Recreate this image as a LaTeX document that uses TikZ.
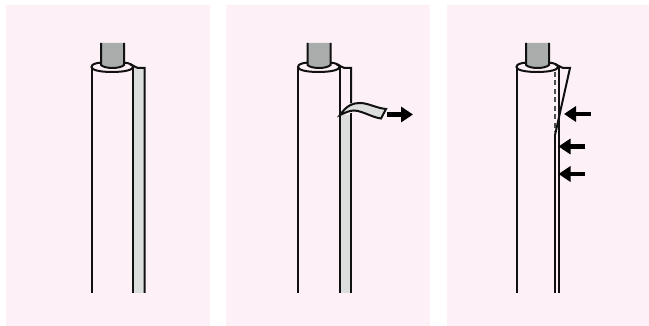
\documentclass[tikz,border=0pt]{standalone}
\definecolor{mPink}{HTML}{FDF1F7}
\definecolor{mCore}{HTML}{ABADAC}
\definecolor{mTape}{HTML}{DCDEDD}
\definecolor{mInk}{HTML}{111111}
\usetikzlibrary{arrows.meta}

\begin{document}
\begin{tikzpicture}[x=1pt, y=-1pt,
  panel/.style={fill=mPink, draw=none},
  ink/.style={draw=mInk, line width=2pt},
  tape/.style={fill=mTape, draw=none},
  pusharrow/.style={draw=black, line width=4.4pt, -{Triangle[length=12pt, width=15pt]}}]
  \useasboundingbox (0,0) rectangle (649,326);
  \fill[panel] (6,5) rectangle (210,326);
  \fill[panel] (226,5) rectangle (430,326);
  \fill[panel] (447,5) rectangle (649,326);
  % roll
  \foreach \dx in {0,206.5,425}{
    \begin{scope}[xshift=\dx pt]
      \draw[ink, fill=mCore] (101,43) -- (101,65) .. controls (105,69) and (120,69) .. (124,65) -- (124,43);
      \draw[ink] (101,62.6) .. controls (95,63) and (91.5,64.5) .. (91.5,67)
        .. controls (91.5,70) and (100,72) .. (112,72) .. controls (124,72) and (133,70) .. (133,67)
        .. controls (133,64.5) and (129,63) .. (124,62.6);
      \draw[ink] (91.5,67) -- (91.5,293);
      \draw[ink] (133,67) -- (133,68);
    \end{scope}}
  % first panel
  \fill[tape] (133,68) rectangle (144.5,293);
  \draw[ink] (133,68) -- (133,293);
  \draw[ink] (130,64.5) .. controls (134,65) and (135,68) .. (138,68) -- (144.5,68) -- (144.5,293);
  % second panel
  \fill[tape] (340,115) rectangle (351,293);
  \draw[ink] (339.5,68) -- (339.5,293);
  \draw[ink] (336.5,64.5) .. controls (340.5,65) and (341.5,68) .. (344.5,68) -- (351,68) -- (351,103.5);
  \draw[ink] (351,113) -- (351,293);
  \draw[ink, fill=mTape] (340,115) .. controls (347,105) and (353,103) .. (360,103)
    .. controls (368,103) and (376,108) .. (386,109) -- (381,118.5)
    .. controls (371,117) and (363,111) .. (354,110.5) .. controls (349,110.5) and (345,113) .. (340,115) -- cycle;
  \coordinate (pull0) at (387,114.5);
  \coordinate (pull1) at (413,114.5);
  \draw[pusharrow] (pull0) -- (pull1);
  % third panel
  \draw[ink] (558.7,67) -- (558.7,293);
  \draw[ink] (555,135) -- (555,293);
  \draw[draw=mInk!75, line width=1.6pt, dash pattern=on 5pt off 3.5pt] (555,72) -- (555,132);
  \draw[ink] (555.5,64.5) .. controls (559,65) and (561,68) .. (563,68) -- (570,68) -- (555,135);
  \coordinate (pressA0) at (591,114);
  \coordinate (pressA1) at (564,114);
  \coordinate (pressB0) at (584.5,146.5);
  \coordinate (pressB1) at (558.5,146.5);
  \coordinate (pressC0) at (584.5,174);
  \coordinate (pressC1) at (558.5,174);
  \foreach \n in {A,B,C}{
    \draw[pusharrow] (press\n0) -- (press\n1);}
\end{tikzpicture}
\end{document}
